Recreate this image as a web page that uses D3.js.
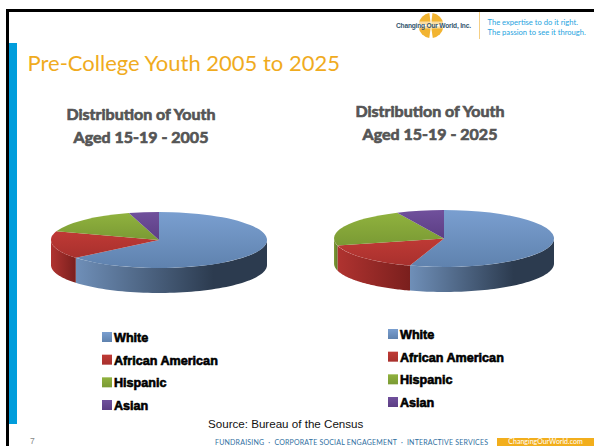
<!DOCTYPE html>
<html><head><meta charset="utf-8">
<script src="https://cdn.jsdelivr.net/npm/d3@7"></script>
<style>html,body{margin:0;padding:0;background:#fff}svg{display:block}</style>
</head><body><svg id="slide" width="594" height="446"></svg>
<script>
const groups = ["White", "African American", "Hispanic", "Asian"];
const share2005 = [64, 16, 15.5, 4.5];
const share2025 = [55, 16, 22, 7];
const titles2005 = ["Distribution of Youth", "Aged 15-19 - 2005"];
const titles2025 = ["Distribution of Youth", "Aged 15-19 - 2025"];
const slideTitle = "Pre-College Youth 2005 to 2025";
const sourceNote = "Source: Bureau of the Census";
const tagline = ["The expertise to do it right.", "The passion to see it through."];
const footerItems = "FUNDRAISING  ·  CORPORATE SOCIAL ENGAGEMENT  ·  INTERACTIVE SERVICES";
const footerSite = "ChangingOurWorld.com";
const topColours = ["#7a9fd0", "#bf3a35", "#90b23e", "#70509c"];
const topShades = ["#5f82ae", "#a8302d", "#7a9a34", "#5c3e84"];
const wallStops = [["#6f8fb8", "#2c3b4f"], ["#b03330", "#7a1f1d"], ["#7f9c38", "#5f7a28"], ["#5c3e84", "#3e2a5c"]];

const svg = d3.select("#slide");
const defs = svg.append("defs");
const font = "'Liberation Sans', Arial, sans-serif";
const bodyFont = "Lato, sans-serif";

// slide frame and accent bar
svg.append("rect").attr("x", 6).attr("y", 9).attr("width", 588).attr("height", 3).attr("fill", "#000");
svg.append("rect").attr("x", 6).attr("y", 9).attr("width", 3).attr("height", 437).attr("fill", "#000");
svg.append("rect").attr("x", 9).attr("y", 43).attr("width", 8).attr("height", 381).attr("fill", "#009ddc");

svg.append("text").attr("x", 27.5).attr("y", 71).attr("font-family", bodyFont)
  .attr("font-size", 22).attr("fill", "#f0ab1e").text(slideTitle);

// company mark: four globe quadrants with a name across the middle
const logo = svg.append("g");
const globeArc = d3.arc().innerRadius(0).outerRadius(12.5);
const quadrants = [[0.12, 1.45], [1.7, 3.0], [3.28, 4.6], [4.85, 6.15]];
logo.append("g").attr("transform", "translate(431,25.5)").selectAll("path").data(quadrants).join("path")
  .attr("d", d => globeArc({startAngle: d[0], endAngle: d[1]})).attr("fill", "#f2b431");
logo.append("rect").attr("x", 396).attr("y", 21.5).attr("width", 76).attr("height", 7).attr("fill", "#fff").attr("opacity", 0.55);
logo.append("text").attr("x", 396).attr("y", 28).attr("font-family", font).attr("font-weight", "bold")
  .attr("font-size", 6.6).attr("fill", "#33566e").attr("textLength", 75).text("Changing Our World, Inc.");
logo.append("rect").attr("x", 479).attr("y", 12).attr("width", 1).attr("height", 27).attr("fill", "#f5cf85");
svg.selectAll("text.tag").data(tagline).join("text").attr("class", "tag")
  .attr("x", 487.5).attr("y", (d, i) => 24.5 + i * 10).attr("font-family", bodyFont)
  .attr("font-size", 7.6).attr("fill", "#27a4e0").text(d => d);

// one tilted 3D pie: wall first, then the top surface
function drawPie(id, values, cx, cy, rx, ry, depth) {
  const pie = d3.pie().sort(null).value(d => d)(values);
  const g = svg.append("g").attr("transform", `translate(${cx},${cy})`);
  const xAt = a => rx * Math.sin(a);
  const yAt = a => -ry * Math.cos(a);
  const rim = d3.line().x(d => d[0]).y(d => d[1]);

  pie.forEach((s, i) => {
    const a0 = Math.max(s.startAngle, Math.PI / 2);
    const a1 = Math.min(s.endAngle, Math.PI * 1.5);
    if (a1 <= a0) return;
    const grad = defs.append("linearGradient").attr("id", `${id}-wall-${i}`)
      .attr("gradientUnits", "userSpaceOnUse")
      .attr("x1", xAt(a1)).attr("x2", xAt(a0)).attr("y1", 0).attr("y2", 0);
    grad.append("stop").attr("offset", "0%").attr("stop-color", wallStops[i][0]);
    grad.append("stop").attr("offset", i === 0 ? "72%" : "100%").attr("stop-color", wallStops[i][1]);
    const steps = d3.range(0, 61).map(k => a0 + (a1 - a0) * k / 60);
    const top = steps.map(a => [xAt(a), yAt(a)]);
    const bottom = steps.slice().reverse().map(a => [xAt(a), yAt(a) + depth]);
    g.append("path").attr("d", rim(top.concat(bottom)) + "Z").attr("fill", `url(#${id}-wall-${i})`);
  });

  const arc = d3.arc().innerRadius(0).outerRadius(rx);
  const topGroup = g.append("g").attr("transform", `scale(1,${ry / rx})`);
  pie.forEach((s, i) => {
    const grad = defs.append("linearGradient").attr("id", `${id}-top-${i}`)
      .attr("x1", 0).attr("x2", 0).attr("y1", 0).attr("y2", 1);
    grad.append("stop").attr("offset", "0%").attr("stop-color", topColours[i]);
    grad.append("stop").attr("offset", "100%").attr("stop-color", topShades[i]);
    topGroup.append("path").attr("d", arc(s)).attr("fill", `url(#${id}-top-${i})`);
  });
}
drawPie("y2005", share2005, 159, 240, 108, 28, 25);
drawPie("y2025", share2025, 444, 238.5, 110, 28.5, 25);

// chart headings
function drawHeading(lines, cx, y0) {
  svg.selectAll(null).data(lines).join("text")
    .attr("x", cx).attr("y", (d, i) => y0 + i * 23).attr("text-anchor", "middle")
    .attr("font-family", bodyFont).attr("font-weight", "bold").attr("font-size", 16)
    .attr("fill", "#555").attr("stroke", "#555").attr("stroke-width", 0.7).text(d => d);
}
drawHeading(titles2005, 141, 120);
drawHeading(titles2025, 430, 117);

// legends
const legendY = d3.scalePoint().domain(groups);
function drawLegend(id, x, yTop, yBottom) {
  legendY.range([yTop, yBottom]);
  const items = svg.selectAll(null).data(groups).join("g")
    .attr("transform", d => `translate(${x},${legendY(d)})`);
  items.append("rect").attr("x", 0).attr("y", -5).attr("width", 10).attr("height", 10)
    .attr("fill", (d, i) => `url(#${id}-top-${i})`);
  items.append("text").attr("x", 12).attr("y", 5).attr("font-family", font).attr("font-weight", "bold")
    .attr("font-size", 12.6).attr("fill", "#000").attr("stroke", "#000").attr("stroke-width", 0.6)
    .text(d => d);
}
drawLegend("y2005", 102, 337, 405);
drawLegend("y2025", 388, 334, 402);

svg.append("text").attr("x", 208).attr("y", 428).attr("font-family", font)
  .attr("font-size", 11.6).attr("fill", "#111").text(sourceNote);
svg.append("text").attr("x", 30).attr("y", 444).attr("font-family", font)
  .attr("font-size", 8.5).attr("fill", "#888").text("7");
svg.append("text").attr("x", 215).attr("y", 445).attr("font-family", bodyFont)
  .attr("font-size", 7).attr("fill", "#2f6f9f").attr("textLength", 273).attr("xml:space", "preserve").text(footerItems);
svg.append("rect").attr("x", 497).attr("y", 438).attr("width", 97).attr("height", 8).attr("fill", "#f2ae1c");
svg.append("text").attr("x", 545.5).attr("y", 444.2).attr("text-anchor", "middle").attr("font-family", bodyFont)
  .attr("font-size", 7).attr("fill", "#fff").text(footerSite);
</script></body></html>
